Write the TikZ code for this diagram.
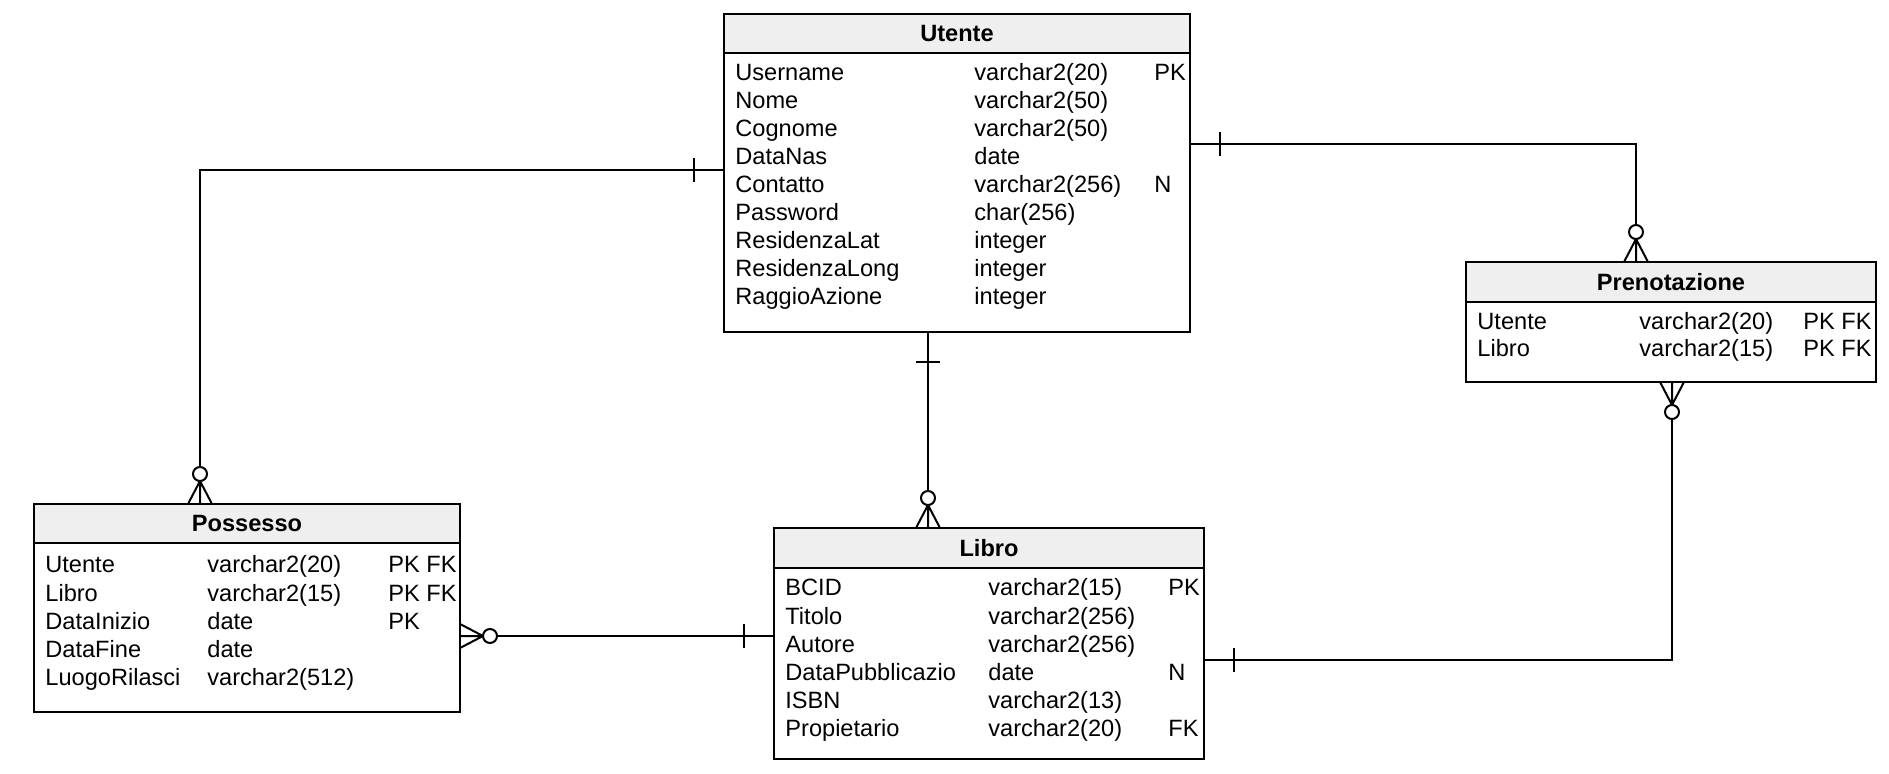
\documentclass[tikz,border=0pt]{standalone}
\usepackage{fontspec}
\setmainfont{Liberation Sans}
\usepackage{xcolor}
\definecolor{hd}{RGB}{239, 239, 239}

\tikzset{
    head/.style={draw, line width=1pt, fill=hd, inner sep=0pt, font=\bfseries\fontsize{11.8}{14}\selectfont},
    body/.style={draw, line width=1pt, inner sep=0pt},
    attr/.style={anchor=base west, inner sep=0pt, font=\fontsize{11.8}{14}\selectfont},
    link/.style={line width=1pt},
}

% one / zero-or-many ends
\newcommand{\erone}[2]{\begin{scope}[shift={(#1)}, rotate=#2]
    \draw[link] (30,-12) -- (30,12);
\end{scope}}
\newcommand{\ermany}[2]{\begin{scope}[shift={(#1)}, rotate=#2]
    \draw[link] (0,-12) -- (23,0) -- (0,12) (0,0) -- (23,0);
    \draw[link, fill=white] (30,0) circle[radius=7];
\end{scope}}

\begin{document}
\begin{tikzpicture}[x=0.5pt, y=-0.5pt]
    \useasboundingbox (0,0) rectangle (1889,774);

    % Utente
    \node[head, minimum width=233pt, minimum height=19.5pt] (utenteH) at (957,33.5) {Utente};
    \node[body, minimum width=233pt, minimum height=139.5pt] (utente) at (957,192.5) {};
    \foreach \a/\b/\c [count=\i from 0] in {Username/varchar2(20)/PK, Nome/varchar2(50)/{}, Cognome/varchar2(50)/{}, DataNas/date/{}, Contatto/varchar2(256)/N, Password/char(256)/{}, ResidenzaLat/integer/{}, ResidenzaLong/integer/{}, RaggioAzione/integer/{}}{
        \node[attr] (ut-a\i) at (735,81+28*\i) {\a};
        \node[attr] (ut-b\i) at (974,81+28*\i) {\b};
        \node[attr] (ut-c\i) at (1154,81+28*\i) {\c};
    }

    % Possesso
    \node[head, minimum width=213pt, minimum height=19.5pt] (possessoH) at (247,523.5) {Possesso};
    \node[body, minimum width=213pt, minimum height=84.5pt] (possesso) at (247,627.5) {};
    \foreach \a/\b/\c [count=\i from 0] in {Utente/varchar2(20)/PK FK, Libro/varchar2(15)/PK FK, DataInizio/date/PK, DataFine/date/{}, LuogoRilasci/varchar2(512)/{}}{
        \node[attr] (po-a\i) at (45,573+28*\i) {\a};
        \node[attr] (po-b\i) at (207,573+28*\i) {\b};
        \node[attr] (po-c\i) at (388,573+28*\i) {\c};
    }

    % Libro
    \node[head, minimum width=215pt, minimum height=20pt] (libroH) at (989,548) {Libro};
    \node[body, minimum width=215pt, minimum height=95.5pt] (libro) at (989,663.5) {};
    \foreach \a/\b/\c [count=\i from 0] in {BCID/varchar2(15)/PK, Titolo/varchar2(256)/{}, Autore/varchar2(256)/{}, DataPubblicazio/date/N, ISBN/varchar2(13)/{}, Propietario/varchar2(20)/FK}{
        \node[attr] (li-a\i) at (785,596+28*\i) {\a};
        \node[attr] (li-b\i) at (988,596+28*\i) {\b};
        \node[attr] (li-c\i) at (1168,596+28*\i) {\c};
    }

    % Prenotazione
    \node[head, minimum width=205pt, minimum height=20pt] (prenotazioneH) at (1671,282) {Prenotazione};
    \node[body, minimum width=205pt, minimum height=40pt] (prenotazione) at (1671,342) {};
    \foreach \a/\b/\c [count=\i from 0] in {Utente/varchar2(20)/PK FK, Libro/varchar2(15)/PK FK}{
        \node[attr] (pr-a\i) at (1477,330+27*\i) {\a};
        \node[attr] (pr-b\i) at (1639,330+27*\i) {\b};
        \node[attr] (pr-c\i) at (1803,330+27*\i) {\c};
    }

    % attachment points
    \coordinate (uL) at (724,170);
    \coordinate (uR) at (1190,144);
    \coordinate (uB) at (928,332);
    \coordinate (poT) at (200,504);
    \coordinate (poR) at (460,636);
    \coordinate (liT) at (928,528);
    \coordinate (liL) at (774,636);
    \coordinate (liR) at (1204,660);
    \coordinate (prT) at (1636,262);
    \coordinate (prB) at (1672,382);

    \draw[link] (uL) -| (poT);
    \draw[link] (uR) -| (prT);
    \draw[link] (uB) -- (liT);
    \draw[link] (poR) -- (liL);
    \draw[link] (prB) |- (liR);

    \erone{uL}{180}
    \ermany{poT}{90}
    \erone{uR}{0}
    \ermany{prT}{90}
    \erone{uB}{-90}
    \ermany{liT}{90}
    \ermany{poR}{0}
    \erone{liL}{180}
    \ermany{prB}{-90}
    \erone{liR}{0}
\end{tikzpicture}
\end{document}
